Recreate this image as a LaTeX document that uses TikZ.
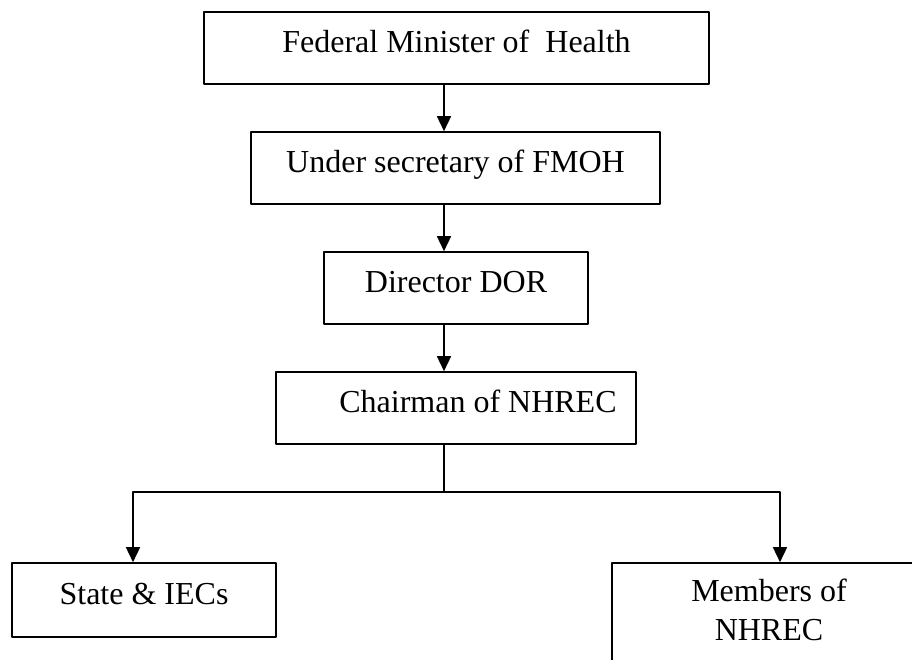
\documentclass[tikz,border=0pt]{standalone}
\usepackage{fontspec}
\setmainfont{Liberation Serif}
\usetikzlibrary{arrows.meta}
\begin{document}
\begin{tikzpicture}[line cap=round,line join=round,>={Triangle[length=15pt,width=14pt]},x=1pt,y=-1pt,
  box/.style={draw,line width=1.6pt,inner sep=0pt,font=\fontsize{32}{39}\selectfont,
    text height=22pt,text depth=13pt,minimum height=72pt},
  link/.style={line width=1.5pt}]
\useasboundingbox (0,0) rectangle (912,660);
\clip (0,0) rectangle (912,660);
\node[box,minimum width=505pt] (fmh) at (456.5,48) {Federal Minister of\ \ Health};
\node[box,minimum width=409pt] (usec) at (455.5,168) {Under secretary of FMOH};
\node[box,minimum width=264pt] (dor) at (456,288) {Director DOR};
\node[box,minimum width=360pt] (chair) at (456,408) {\hspace*{44pt}Chairman of NHREC};
\node[box,minimum width=264pt,minimum height=74pt] (state) at (144,600) {State \& IECs};
\node[box,minimum width=314pt,minimum height=164pt,align=center,text depth=31pt] (memb) at (769,645) {Members of\\NHREC};
\coordinate (spine) at (444,0);
\coordinate (fork) at (444,492);
\draw [link,->] (fmh.south -| spine) -- (usec.north -| spine);
\draw [link,->] (usec.south -| spine) -- (dor.north -| spine);
\draw [link,->] (dor.south -| spine) -- (chair.north -| spine);
\draw [link] (chair.south -| spine) -- (fork);
\draw [link,->] (fork) -| ([xshift=-11pt]state.north);
\draw [link,->] (fork) -| ([xshift=11pt]memb.north);
\end{tikzpicture}
\end{document}
